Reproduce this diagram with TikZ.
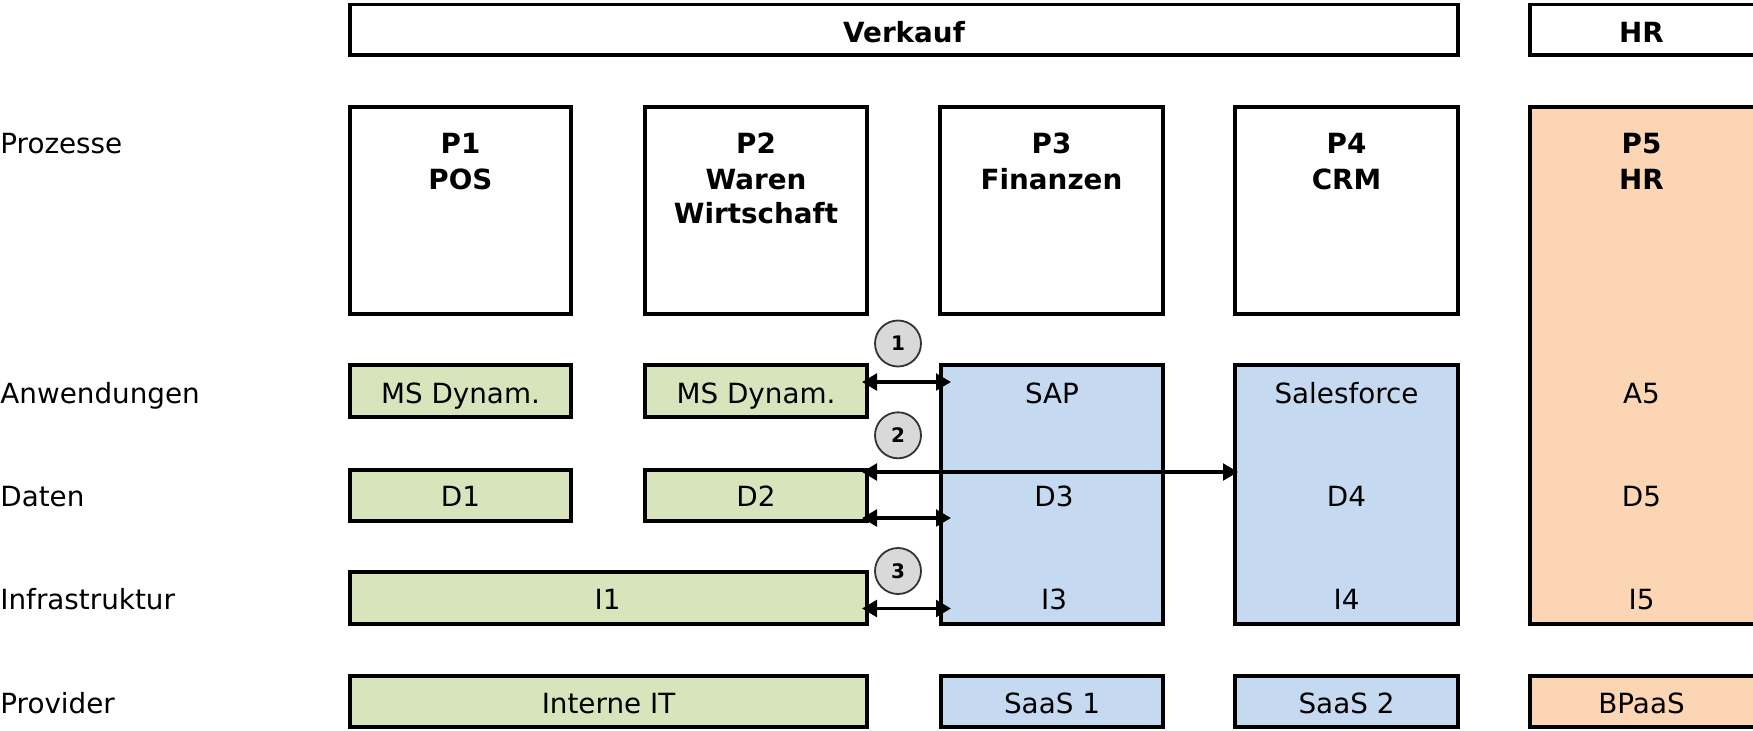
\documentclass[tikz,border=0pt]{standalone}
\usepackage{fontspec}
\setmainfont{DejaVu Sans}
\usetikzlibrary{fit,calc,arrows.meta}
\definecolor{grn}{HTML}{D8E4BC}
\definecolor{blu}{HTML}{C5D9F1}
\definecolor{org}{HTML}{FCD5B4}
\definecolor{cgray}{HTML}{D9D9D9}
\definecolor{cline}{HTML}{333333}
\begin{document}
\begin{tikzpicture}[x=0.5pt,y=-0.5pt,
  box/.style={draw=black,line width=1.55pt,inner sep=0pt,outer sep=0pt},
  txt/.style={anchor=base,inner sep=0pt,font=\fontsize{13.9}{17.5}\selectfont},
  btxt/.style={anchor=base,inner sep=0pt,font=\fontsize{13.9}{17.5}\selectfont\bfseries},
  lbl/.style={anchor=base west,inner sep=0pt,font=\fontsize{13.9}{17.5}\selectfont},
  num/.style={circle,draw=cline,line width=0.9pt,fill=cgray,minimum size=23pt,inner sep=0pt,font=\fontsize{10}{11}\selectfont\bfseries},
  dbl/.style={line width=1.8pt,{Triangle[length=7.5pt,width=8.3pt]}-{Triangle[length=7.5pt,width=8.3pt]}}
]
\useasboundingbox (0,0) rectangle (1753,730);

% row labels
\node[lbl] (lProz) at (0,153) {Prozesse};
\node[lbl] (lAnw) at (0,403.5) {Anwendungen};
\node[lbl] (lDat) at (0,506.5) {Daten};
\node[lbl] (lInf) at (0,609) {Infrastruktur};
\node[lbl] (lProv) at (0,713) {Provider};

% header boxes
\node[box,fit={(350,4.5)(1458,55)}] (verkauf) {};
\node[box,fit={(1530,4.5)(1755,55)}] (hr) {};
\node[btxt] (tverkauf) at (904,42) {Verkauf};
\node[btxt] (thr) at (1641.5,42) {HR};

% process boxes
\node[box,fit={(350,107)(571,314)}] (p1) {};
\node[box,fit={(645,107)(867,314)}] (p2) {};
\node[box,fit={(940,107)(1163,314)}] (p3) {};
\node[box,fit={(1235,107)(1458,314)}] (p4) {};
\node[box,fill=org,fit={(1530,107)(1755,624)}] (p5) {};

% application boxes
\node[box,fill=grn,fit={(350,365)(571,417)}] (a1) {};
\node[box,fill=grn,fit={(645,365)(867,417)}] (a2) {};
\node[box,fill=blu,fit={(941,365)(1163,624)}] (c3) {};
\node[box,fill=blu,fit={(1235,365)(1458,624)}] (c4) {};

% data / infra
\node[box,fill=grn,fit={(350,470)(571,521)}] (d1) {};
\node[box,fill=grn,fit={(645,470)(867,521)}] (d2) {};
\node[box,fill=grn,fit={(350,572)(867,624)}] (i1) {};

% provider
\node[box,fill=grn,fit={(350,676)(867,727)}] (pr1) {};
\node[box,fill=blu,fit={(941,676)(1163,727)}] (pr3) {};
\node[box,fill=blu,fit={(1235,676)(1458,727)}] (pr4) {};
\node[box,fill=org,fit={(1530,676)(1755,727)}] (pr5) {};

% process texts
\node[btxt] (tp1a) at (460.5,153) {P1};
\node[btxt] (tp1b) at (460.5,189) {POS};
\node[btxt] (tp2a) at (756,153) {P2};
\node[btxt] (tp2b) at (756,189) {Waren};
\node[btxt] (tp2c) at (756,223.5) {Wirtschaft};
\node[btxt] (tp3a) at (1051.5,153) {P3};
\node[btxt] (tp3b) at (1051.5,189) {Finanzen};
\node[btxt] (tp4a) at (1346.5,153) {P4};
\node[btxt] (tp4b) at (1346.5,189) {CRM};
\node[btxt] (tp5a) at (1641.5,153) {P5};
\node[btxt] (tp5b) at (1641.5,189) {HR};

% application texts
\node[txt] (ta1) at (460.5,403.5) {MS Dynam.};
\node[txt] (ta2) at (756,403.5) {MS Dynam.};
\node[txt] (ta3) at (1052,403.5) {SAP};
\node[txt] (ta4) at (1346.5,403.5) {Salesforce};
\node[txt] (ta5) at (1641.5,403.5) {A5};

% data texts
\node[txt] (td1) at (460.5,506.5) {D1};
\node[txt] (td2) at (756,506.5) {D2};
\node[txt] (td3) at (1054,506.5) {D3};
\node[txt] (td4) at (1346.5,506.5) {D4};
\node[txt] (td5) at (1641.5,506.5) {D5};

% infra texts
\node[txt] (ti1) at (607.5,609) {I1};
\node[txt] (ti3) at (1054,609) {I3};
\node[txt] (ti4) at (1346.5,609) {I4};
\node[txt] (ti5) at (1641.5,609) {I5};

% provider texts
\node[txt] (tpr1) at (608.5,713) {Interne IT};
\node[txt] (tpr3) at (1052,713) {SaaS 1};
\node[txt] (tpr4) at (1346.5,713) {SaaS 2};
\node[txt] (tpr5) at (1641.5,713) {BPaaS};

% connectors
\draw[dbl] ($(a2.east)+(-5,-9)$) -- ($(a2.east -| c3.west)+(10,-9)$);
\draw[dbl] ($(d2.north east)+(-5,2)$) -- ($(d2.north east -| c4.west)+(3,2)$);
\draw[dbl] ($(d2.south east)+(-5,-3)$) -- ($(d2.south east -| c3.west)+(10,-3)$);
\draw[dbl] ($(i1.south east)+(-5,-15.5)$) -- ($(i1.south east -| c3.west)+(10,-15.5)$);

% numbered circles
\node[num] (n1) at (898,343.5) {1};
\node[num] (n2) at (898,435.3) {2};
\node[num] (n3) at (898,571) {3};
\end{tikzpicture}
\end{document}
